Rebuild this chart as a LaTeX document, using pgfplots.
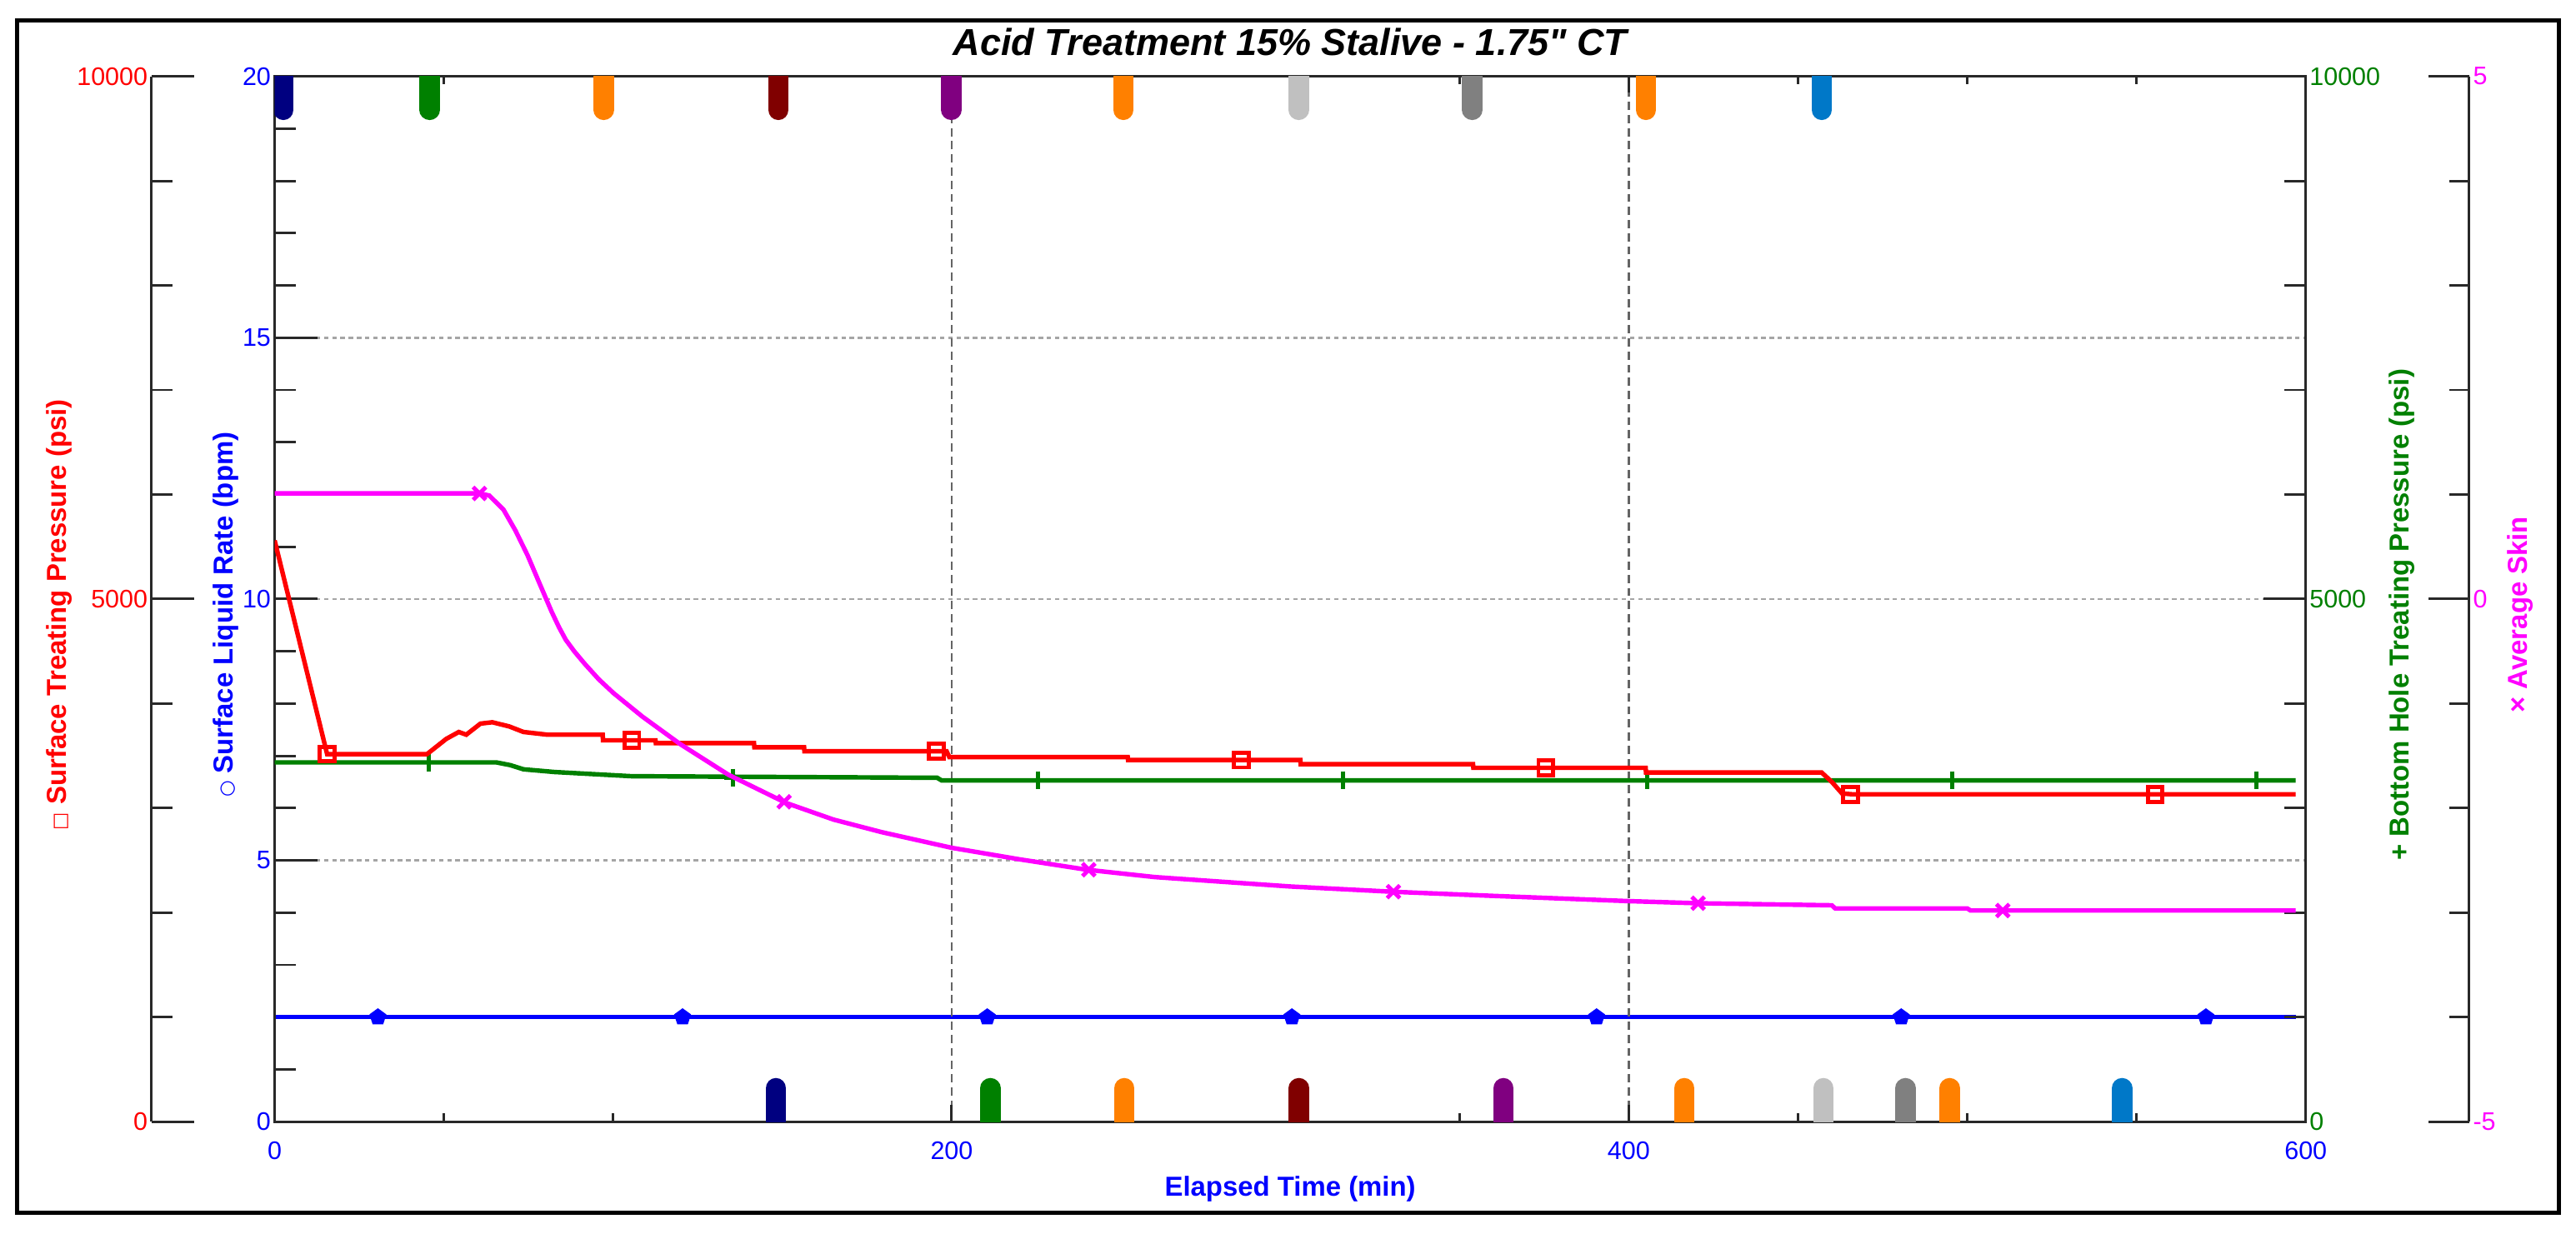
\documentclass[border=0pt]{standalone}
\usepackage{fontspec}
\setmainfont{Liberation Sans}
\newfontfamily\symfont{DejaVu Sans}
\newfontfamily\titlefont[Ligatures=TeXOff]{Liberation Sans}
\usepackage{pgfplots}
\usepackage{pgfplotstable}
\pgfplotsset{compat=1.18}

\definecolor{cred}{RGB}{255,0,0}
\definecolor{cblue}{RGB}{0,0,255}
\definecolor{cgreen}{RGB}{0,128,0}
\definecolor{cmag}{RGB}{255,0,255}
\definecolor{evnavy}{RGB}{0,0,128}
\definecolor{evgreen}{RGB}{0,128,0}
\definecolor{evorange}{RGB}{255,128,0}
\definecolor{evmaroon}{RGB}{128,0,0}
\definecolor{evpurple}{RGB}{128,0,128}
\definecolor{evsilver}{RGB}{192,192,192}
\definecolor{evgray}{RGB}{128,128,128}
\definecolor{evsteel}{RGB}{0,120,200}
\definecolor{axcol}{RGB}{40,40,40}
\definecolor{gridh}{RGB}{165,165,165}
\definecolor{gridv}{RGB}{100,100,100}

% surface treating pressure (psi)
\pgfplotstableread{
t p
0 5560
15.5 3516
45 3516
50.7 3662
54.4 3728
56.6 3702
60.8 3808
64.3 3821
69.3 3781
73.5 3728
80.6 3702
96.9 3702
97.0 3648
112.5 3648
112.6 3621
141.6 3621
141.7 3582
156.4 3582
156.5 3543
198.5 3543
199.3 3488
252 3488
252.1 3460
303 3460
303.1 3420
354 3420
354.1 3385
405 3385
405.1 3340
457 3340
460 3250
463 3140
466 3132
597 3132
}\stpdata
\pgfplotstableread{
t p
15.5 3516
105.5 3648
195.5 3543
285.5 3460
375.5 3385
465.5 3132
555.5 3132
}\stpmarks

% bottom hole treating pressure (psi)
\pgfplotstableread{
t p
0 3437
65.5 3437
69.6 3411
73.5 3371
82.7 3345
105.4 3305
195.7 3290
197 3265
597 3265
}\bhpdata
\pgfplotstableread{
t p
45.5 3437
135.5 3290
225.5 3265
315.5 3265
405.5 3265
495.5 3265
585.5 3265
}\bhpmarks

% surface liquid rate (bpm)
\pgfplotstableread{
t q
0 2.0
597 2.0
}\slrdata
\pgfplotstableread{
t q
30.5 2.0
120.5 2.0
210.5 2.0
300.5 2.0
390.5 2.0
480.5 2.0
570.5 2.0
}\slrmarks

% average skin
\pgfplotstableread{
t s
0 1.01
60.6 1.01
63.4 0.99
67.6 0.855
71.1 0.657
74.7 0.419
78.2 0.153
81.8 -0.12
84.0 -0.27
86.0 -0.39
88.5 -0.50
91.6 -0.62
95.8 -0.77
100.1 -0.90
108.6 -1.124
119.9 -1.39
134 -1.68
151 -1.95
165.1 -2.11
179.3 -2.23
200 -2.38
220 -2.49
240 -2.59
260 -2.66
300 -2.75
330 -2.80
360 -2.84
400 -2.89
420 -2.91
460 -2.93
461 -2.96
500 -2.96
501 -2.98
597 -2.98
}\skindata
\pgfplotstableread{
t s
60.5 1.01
150.5 -1.94
240.5 -2.59
330.5 -2.80
420.5 -2.91
510.5 -2.98
}\skinmarks

\pgfplotsset{
  base/.style={
    scale only axis, width=247.3mm, height=127.3mm,
    xmin=0, xmax=600,
    /pgf/number format/assume math mode=true,
    /pgf/number format/1000 sep={},
    scaled y ticks=false,
    tick label style={font=\fontsize{8.8}{10}\selectfont},
    axis line style={line width=0.3mm, axcol},
    tick style={line width=0.3mm, axcol},
    tick align=inside,
    major tick length=5.2mm, minor tick length=2.6mm,
  },
  series/.style={line width=0.55mm, forget plot},
  event/.style={line width=2.5mm, line cap=round, forget plot},
}
\newcommand{\lblfont}{\fontsize{9.5}{11}\selectfont\bfseries}
\newcommand{\evbot}[2]{\addplot[event, #2] coordinates {(#1,0) (#1,0.64)};}
\newcommand{\evtop}[2]{\addplot[event, #2] coordinates {(#1,20) (#1,19.36)};}

\begin{document}
\begin{tikzpicture}
% blue rate axis with horizontal grid
\begin{axis}[base, ymin=0, ymax=20,
  hide x axis, axis y line*=left,
  ytick={0,20}, extra y ticks={5,10,15},
  extra y tick style={grid=major},
  major grid style={gridh, line width=0.25mm, dash pattern=on 0.55mm off 0.45mm},
  minor ytick={1,...,19},
  yticklabel style={text=cblue, inner sep=0.4mm},
]
\addplot[series, cblue] table[x=t, y=q] {\slrdata};
\addplot[cblue, only marks, mark=pentagon*, mark size=1mm, forget plot] table[x=t, y=q] {\slrmarks};
\end{axis}

% box, time axis, vertical grid, labels
\begin{axis}[base, ymin=0, ymax=20, clip=false,
  ytick=\empty,
  xtick={0,600}, extra x ticks={200,400},
  extra x tick style={grid=major},
  major grid style={gridv, line width=0.25mm, dash pattern=on 1mm off 0.6mm},
  minor xtick={50,100,...,550},
  major tick length=2mm, minor tick length=1mm,
  xticklabel style={text=cblue, inner sep=0pt, yshift=-2.4mm},
]
\node[text=cblue, font=\lblfont] at (axis description cs:0.5,-0.0644) {Elapsed Time (min)};
\node[font=\titlefont\fontsize{13}{15}\selectfont\bfseries\itshape] at (axis description cs:0.5,1.033) {Acid Treatment 15\% Stalive - 1.75" CT};
\node[rotate=90, text=cred, font=\lblfont] at (axis description cs:-0.10595,0.485) {{\symfont\fontsize{6.5}{7}\selectfont □} Surface Treating Pressure (psi)};
\node[rotate=90, text=cblue, font=\lblfont] at (axis description cs:-0.02386,0.485) {{\symfont\fontsize{6.5}{7}\selectfont ○} Surface Liquid Rate (bpm)};
\node[rotate=90, text=cgreen, font=\lblfont] at (axis description cs:1.04731,0.485) {+ Bottom Hole Treating Pressure (psi)};
\node[rotate=90, text=cmag, font=\lblfont] at (axis description cs:1.10554,0.485) {× Average Skin};
\end{axis}

% red pressure scale, offset to the left
\begin{axis}[base, at={(-15mm,0)}, width=0.5mm, xmin=0, xmax=1,
  ymin=0, ymax=10000, hide x axis, axis y line*=left,
  ytick={0,5000,10000}, minor ytick={1000,2000,...,9000},
  yticklabel style={text=cred, inner sep=0.4mm},
]
\end{axis}

% magenta skin scale, offset to the right
\begin{axis}[base, at={(266.7mm,0)}, width=0.5mm, xmin=0, xmax=1,
  ymin=-5, ymax=5, hide x axis, axis y line*=right,
  major tick length=5mm, minor tick length=2.4mm,
  ytick={-5,0,5}, minor ytick={-4,...,4},
  yticklabel style={text=cmag, inner sep=0.4mm},
]
\end{axis}

% bottom hole pressure, right axis
\begin{axis}[base, ymin=0, ymax=10000,
  hide x axis, axis y line*=right,
  ytick={0,5000,10000}, minor ytick={1000,2000,...,9000},
  yticklabel style={text=cgreen, inner sep=0.4mm},
]
\addplot[series, cgreen] table[x=t, y=p] {\bhpdata};
\addplot[cgreen, only marks, mark=+, mark size=1.1mm, mark options={line width=0.5mm}, forget plot] table[x=t, y=p] {\bhpmarks};
\end{axis}

% surface treating pressure data
\begin{axis}[base, ymin=0, ymax=10000, hide axis]
\addplot[series, cred] table[x=t, y=p] {\stpdata};
\addplot[cred, only marks, mark=square, mark size=0.9mm, mark options={line width=0.5mm}, forget plot] table[x=t, y=p] {\stpmarks};
\end{axis}

% average skin data
\begin{axis}[base, ymin=-5, ymax=5, hide axis]
\addplot[series, cmag] table[x=t, y=s] {\skindata};
\addplot[cmag, only marks, mark=x, mark size=1.1mm, mark options={line width=0.5mm}, forget plot] table[x=t, y=s] {\skinmarks};
\end{axis}

% stage event flags
\begin{axis}[base, ymin=0, ymax=20, hide axis]
\evtop{2.6}{evnavy}
\evtop{45.8}{evgreen}
\evtop{97.2}{evorange}
\evtop{148.8}{evmaroon}
\evtop{199.9}{evpurple}
\evtop{250.7}{evorange}
\evtop{302.5}{evsilver}
\evtop{353.8}{evgray}
\evtop{405.1}{evorange}
\evtop{457}{evsteel}
\evbot{148.1}{evnavy}
\evbot{211.4}{evgreen}
\evbot{251}{evorange}
\evbot{302.6}{evmaroon}
\evbot{363}{evpurple}
\evbot{416.4}{evorange}
\evbot{457.5}{evsilver}
\evbot{481.7}{evgray}
\evbot{494.8}{evorange}
\evbot{545.7}{evsteel}
\end{axis}

\draw[line width=0.5mm, black] (-31.4mm,-11.1mm) rectangle (278.1mm,134.1mm);
\path (-33.44mm,-13.6mm) rectangle (280.2mm,136.6mm);
\end{tikzpicture}
\end{document}
